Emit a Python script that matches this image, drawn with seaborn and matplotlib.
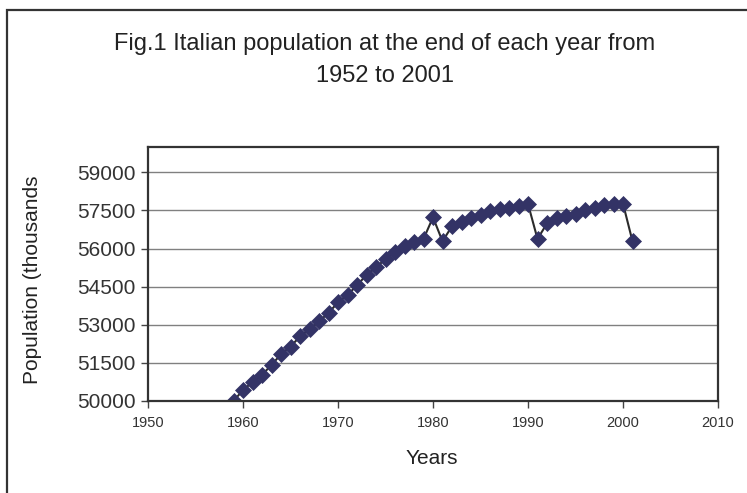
import matplotlib
matplotlib.use("Agg")
import matplotlib.pyplot as plt
import seaborn as sns
import pandas as pd
from matplotlib.patches import Rectangle

years = list(range(1959, 2002))
population = [50000, 50430, 50740, 51030, 51420, 51840, 52140, 52540, 52830, 53130,
              53470, 53880, 54180, 54550, 54970, 55260, 55590, 55870, 56090, 56250,
              56380, 57230, 56290, 56880, 57040, 57210, 57340, 57470, 57560, 57600,
              57670, 57760, 56380, 56990, 57210, 57300, 57380, 57510, 57600, 57710,
              57760, 57770, 56290]
x_ticks = [1950, 1960, 1970, 1980, 1990, 2000, 2010]
y_ticks = [50000, 51500, 53000, 54500, 56000, 57500, 59000]

title = "Fig.1 Italian population at the end of each year from\n1952 to 2001"
x_label = "Years"
y_label = "Population (thousands"

df = pd.DataFrame({"Year": years, "Population": population})

sns.set_style("white")
plt.rcParams['font.family'] = ['Liberation Sans', 'DejaVu Sans']

W, H = 747, 493
fig = plt.figure(figsize=(W / 100, H / 100), dpi=100)
ax = fig.add_axes([148 / W, 1 - 401 / H, (718 - 148) / W, (401 - 147) / H])

sns.lineplot(data=df, x="Year", y="Population", ax=ax, color="#2b2b2b", lw=1.5,
             marker="D", markersize=8.5, markerfacecolor="#333366",
             markeredgecolor="#333366", markeredgewidth=0.5)

ax.set_xlim(1950, 2010)
ax.set_ylim(50000, 60000)
ax.set_xticks(x_ticks)
ax.set_yticks(y_ticks)
ax.set_xticklabels([str(t) for t in x_ticks], fontsize=10.5, color="#333333")
ax.set_yticklabels([str(t) for t in y_ticks], fontsize=15, color="#333333")
ax.yaxis.grid(True, color="#808080", lw=1)
ax.xaxis.grid(False)
ax.tick_params(axis="both", direction="out", length=5, width=1, color="#444444",
               bottom=True, left=True)
ax.tick_params(axis="x", pad=6)
ax.tick_params(axis="y", pad=4)
for s in ax.spines.values():
    s.set_color("#333333")
    s.set_linewidth(1.6)
ax.set_xlabel("")
ax.set_ylabel("")

fig.text(385 / W, 1 - 60 / H, title, ha="center", va="center", fontsize=17,
         color="#222222", linespacing=1.55)
fig.text(432 / W, 1 - 459 / H, x_label, ha="center", va="center", fontsize=15,
         color="#222222")
fig.text(33 / W, 1 - 280 / H, y_label, ha="center", va="center", fontsize=15,
         color="#222222", rotation=90)

fig.add_artist(Rectangle((7 / W, -0.1), 1.2, 1 - 10 / H + 0.1, transform=fig.transFigure,
                         fill=False, edgecolor="#333333", lw=1.6))

fig.savefig("out.png", dpi=100)
